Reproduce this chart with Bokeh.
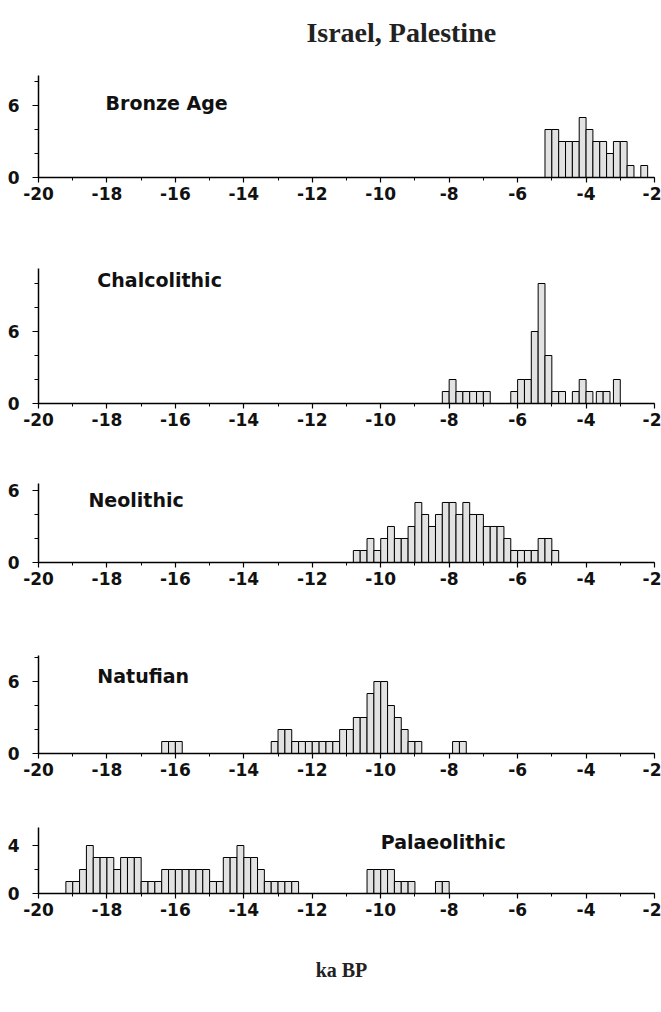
from bokeh.plotting import figure
from bokeh.models import Range1d, FixedTicker, Label
from bokeh.core.properties import value
from bokeh.layouts import column
from bokeh.embed import file_html
from bokeh.resources import INLINE

# ---------------- data ----------------
x_ticks = [-20, -18, -16, -14, -12, -10, -8, -6, -4, -2]
x_tick_labels = ["-20", "-18", "-16", "-14", "-12", "-10", "-8", "-6", "-4", "-2"]
x_minor_ticks = list(range(-20, -1))
bin_width = 0.2  # ka

bronze_start = [-5.2, -5.0, -4.8, -4.6, -4.4, -4.2, -4.0, -3.8, -3.6, -3.4, -3.2, -3.0, -2.8, -2.4]
bronze_count = [4, 4, 3, 3, 3, 5, 4, 3, 3, 2, 3, 3, 1, 1]

chalco_start = [-8.2, -8.0, -7.8, -7.6, -7.4, -7.2, -7.0,
                -6.2, -6.0, -5.8, -5.6, -5.4, -5.2,
                -5.0, -4.8, -4.4, -4.2, -4.0, -3.7, -3.5, -3.2]
chalco_count = [1, 2, 1, 1, 1, 1, 1,
                1, 2, 2, 6, 10, 4,
                1, 1, 1, 2, 1, 1, 1, 2]

neo_start = [-10.8, -10.6, -10.4, -10.2, -10.0, -9.8, -9.6, -9.4, -9.2, -9.0,
             -8.8, -8.6, -8.4, -8.2, -8.0, -7.8, -7.6, -7.4, -7.2, -7.0,
             -6.8, -6.6, -6.4, -6.2, -6.0, -5.8, -5.6, -5.4, -5.2, -5.0]
neo_count = [1, 1, 2, 1, 2, 3, 2, 2, 3, 5,
             4, 3, 4, 5, 5, 4, 5, 4, 4, 3,
             3, 3, 2, 1, 1, 1, 1, 2, 2, 1]

natuf_start = [-16.4, -16.2, -16.0,
               -13.2, -13.0, -12.8, -12.6, -12.4, -12.2, -12.0, -11.8, -11.6, -11.4,
               -11.2, -11.0, -10.8, -10.6, -10.4, -10.2, -10.0, -9.8, -9.6, -9.4, -9.2, -9.0,
               -7.9, -7.7]
natuf_count = [1, 1, 1,
               1, 2, 2, 1, 1, 1, 1, 1, 1, 1,
               2, 2, 3, 3, 5, 6, 6, 4, 3, 2, 1, 1,
               1, 1]

palaeo_start = [-19.2, -19.0, -18.8, -18.6, -18.4, -18.2, -18.0, -17.8, -17.6, -17.4, -17.2,
                -17.0, -16.8, -16.6, -16.4, -16.2, -16.0, -15.8, -15.6, -15.4, -15.2,
                -15.0, -14.8, -14.6, -14.4, -14.2, -14.0, -13.8, -13.6,
                -13.4, -13.2, -13.0, -12.8, -12.6,
                -10.4, -10.2, -10.0, -9.8, -9.6, -9.4, -9.2,
                -8.4, -8.2]
palaeo_count = [1, 1, 2, 4, 3, 3, 3, 2, 3, 3, 3,
                1, 1, 1, 2, 2, 2, 2, 2, 2, 2,
                1, 1, 3, 3, 4, 3, 3, 2,
                1, 1, 1, 1, 1,
                2, 2, 2, 2, 1, 1, 1,
                1, 1]

panel_names = ["Bronze Age", "Chalcolithic", "Neolithic", "Natufian", "Palaeolithic"]
panel_starts = [bronze_start, chalco_start, neo_start, natuf_start, palaeo_start]
panel_counts = [bronze_count, chalco_count, neo_count, natuf_count, palaeo_count]
y_major_ticks = [[0, 6], [0, 6], [0, 6], [0, 6], [0, 4]]
y_major_labels = [["0", "6"], ["0", "6"], ["0", "6"], ["0", "6"], ["0", "4"]]
y_minor_ticks = [[0, 2, 4, 6, 8], [0, 2, 4, 6, 8, 10], [0, 2, 4, 6], [0, 2, 4, 6, 8], [0, 2, 4]]

title_text = "Israel, Palestine"
x_label_text = "ka   BP"

# ---------------- layout / style ----------------
HEADER_H = 52
panel_layout = [
    dict(top=75 - HEADER_H, frame=102, bottom=38, ymax=8.5, lx=-18.04, ly=6.2),
    dict(top=53, frame=135, bottom=47, ymax=11.25, lx=-18.28, ly=10.3),
    dict(top=33, frame=79, bottom=58, ymax=6.58, lx=-18.54, ly=5.2),
    dict(top=35, frame=98, bottom=37, ymax=8.17, lx=-18.28, ly=6.5),
    dict(top=37, frame=66, bottom=113, ymax=5.5, lx=-10.0, ly=4.3),
]

# header strip carrying the title (pixel-based ranges)
header = figure(width=661, height=HEADER_H, x_range=Range1d(0, 661), y_range=Range1d(0, HEADER_H),
                x_axis_type=None, y_axis_type=None, output_backend="svg", toolbar_location=None,
                min_border_left=0, min_border_right=0, min_border_top=0, min_border_bottom=0)
header.outline_line_color = None
header.grid.visible = False
header.text(x=[400], y=[HEADER_H - 32], text=[title_text],
            text_font=value("Liberation Serif"), text_font_style="bold",
            text_font_size="28px", text_color="#222222",
            text_align="center", text_baseline="middle", x_offset=-10)

TICK_FONT = "DejaVu Sans"
figs = [header]
for i in range(5):
    cfg = panel_layout[i]
    h = cfg["top"] + cfg["frame"] + cfg["bottom"]
    p = figure(width=661, height=h,
               x_range=Range1d(-20, -2), y_range=Range1d(0, cfg["ymax"]),
               output_backend="svg", toolbar_location=None,
               min_border_left=38, min_border_right=7,
               min_border_top=cfg["top"], min_border_bottom=cfg["bottom"])
    p.outline_line_color = None
    p.xgrid.visible = False
    p.ygrid.visible = False
    p.background_fill_color = "white"
    p.border_fill_color = "white"

    starts = panel_starts[i]
    rights = [s + bin_width for s in starts]
    p.quad(left=starts, right=rights, bottom=0, top=panel_counts[i],
           fill_color="#e2e2e2", line_color="black", line_width=1)

    # x axis
    p.xaxis.ticker = FixedTicker(ticks=x_ticks, minor_ticks=x_minor_ticks)
    p.xaxis.major_label_overrides = dict(zip(x_ticks, x_tick_labels))
    # y axis
    p.yaxis.ticker = FixedTicker(ticks=y_major_ticks[i], minor_ticks=y_minor_ticks[i])
    p.yaxis.major_label_overrides = dict(zip(y_major_ticks[i], y_major_labels[i]))

    for ax in (p.xaxis, p.yaxis):
        ax.axis_line_color = "black"
        ax.axis_line_width = 1.5
        ax.major_tick_line_color = "black"
        ax.minor_tick_line_color = "black"
        ax.major_tick_line_width = 1.2
        ax.minor_tick_line_width = 1
        ax.major_tick_in = 0
        ax.minor_tick_in = 0
        ax.major_label_text_font = TICK_FONT
        ax.major_label_text_font_size = "17px"
        ax.major_label_text_font_style = "bold"
        ax.major_label_text_color = "#111111"
    p.xaxis.major_tick_out = 5
    p.xaxis.minor_tick_out = 3
    p.xaxis.major_label_standoff = 4
    p.yaxis.major_tick_out = 6
    p.yaxis.minor_tick_out = 4
    p.yaxis.major_label_standoff = 13

    p.add_layout(Label(x=cfg["lx"], y=cfg["ly"], text=panel_names[i],
                       text_font=TICK_FONT, text_font_size="19px", text_font_style="bold",
                       text_color="#111111", text_align="left", text_baseline="middle"))
    figs.append(p)

# x label on last panel
last = figs[-1]
last.xaxis.axis_label = x_label_text
last.xaxis.axis_label_text_font = "Liberation Serif"
last.xaxis.axis_label_text_font_style = "bold"
last.xaxis.axis_label_text_font_size = "20px"
last.xaxis.axis_label_text_color = "#222222"
last.xaxis.axis_label_standoff = 40

layout = column(*figs, spacing=0)
open("out.html", "w").write(file_html(layout, INLINE, title="Israel, Palestine"))
